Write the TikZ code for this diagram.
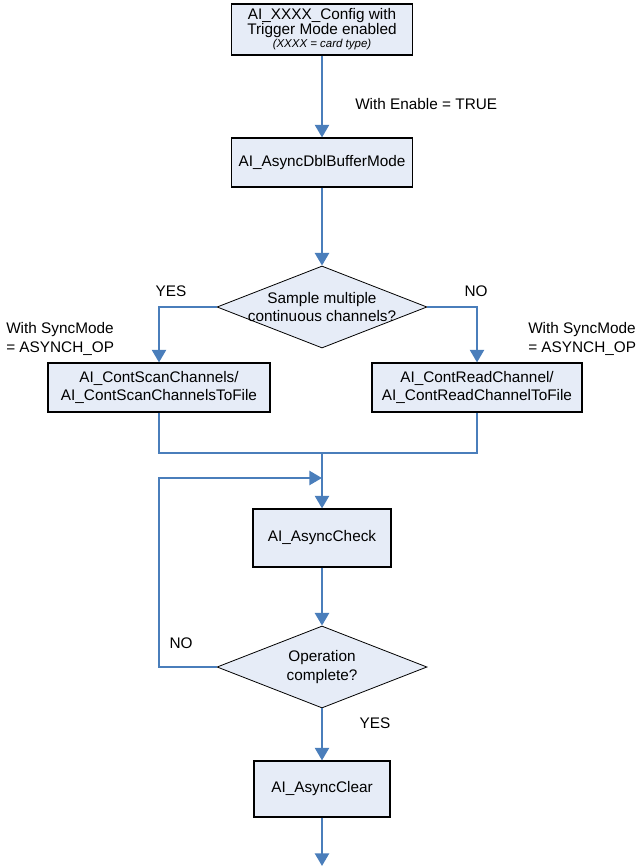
\documentclass[tikz,border=0pt]{standalone}
\usepackage{fontspec}
\setmainfont{Liberation Sans}
\usepackage{tikz}
\usetikzlibrary{shapes.geometric, arrows.meta, positioning}
\definecolor{flowblue}{HTML}{4A7EBB}
\definecolor{boxfill}{HTML}{E6ECF7}

\begin{document}
\begin{tikzpicture}[
  x=0.75pt, y=-0.75pt,
  every node/.style={font=\fontsize{11.5}{13.8}\selectfont},
  block/.style={
    rectangle, draw=black, line width=0.8pt, fill=boxfill,
    align=center, inner sep=0pt
  },
  decision/.style={
    diamond, draw=black, line width=0.6pt, fill=boxfill, aspect=2.56,
    minimum width=157.5pt, minimum height=61.5pt, inner sep=0pt
  },
  note/.style={align=left, inner sep=0pt},
  arrow/.style={-{Triangle[length=9.5pt,width=10.5pt]}, line width=1.9pt, draw=flowblue},
  link/.style={line width=1.9pt, draw=flowblue},
]
  \useasboundingbox (0,0) rectangle (638,867);

  \node[block, minimum width=135.75pt, minimum height=38.25pt,
        font=\fontsize{11.5}{11.3}\selectfont] (config) at (322,29.5)
    {AI\_XXXX\_Config with\\Trigger Mode enabled\\[-1.5pt]
     {\fontsize{8.6}{9}\selectfont\itshape (XXXX = card type)}};
  \node[block, minimum width=135.75pt, minimum height=36.75pt] (dblbuf) at (322,162.5)
    {AI\_AsyncDblBufferMode};
  \node[decision, label={[align=center]center:{Sample multiple\\continuous channels?}}]
    (dsample) at (322,307) {};
  \node[block, minimum width=166.5pt, minimum height=36.75pt] (scan) at (159,387.5)
    {AI\_ContScanChannels/\\AI\_ContScanChannelsToFile};
  \node[block, minimum width=157.5pt, minimum height=36.75pt] (read) at (477,387.5)
    {AI\_ContReadChannel/\\AI\_ContReadChannelToFile};
  \node[block, minimum width=103.5pt, minimum height=43.5pt] (check) at (322,538)
    {AI\_AsyncCheck};
  \node[decision, label={[align=center]center:{Operation\\complete?}}]
    (dcomplete) at (322,667) {};
  \node[block, minimum width=102pt, minimum height=42pt] (clear) at (322,789)
    {AI\_AsyncClear};

  % labels
  \node[anchor=west, inner sep=0pt] (lblenable) at (355,104) {With Enable = TRUE};
  \node (lblyes) at (171,291) {YES};
  \node (lblno) at (476,291) {NO};
  \node[note, anchor=west] (lblsyncl) at (6,339) {With SyncMode\\= ASYNCH\_OP};
  \node[note, anchor=west] (lblsyncr) at (528,339) {With SyncMode\\= ASYNCH\_OP};
  \node (lblloopno) at (181,643) {NO};
  \node (lbldoneyes) at (375,723) {YES};

  \coordinate (join) at (322,453);
  \coordinate (loopcorner) at (159,478);
  \coordinate (loopend) at (322,478);
  \coordinate (exit) at (322,866);

  \draw[arrow] (config) -- (dblbuf);
  \draw[arrow] (dblbuf) -- (dsample);
  \draw[arrow] (dsample.west) -| (scan);
  \draw[arrow] (dsample.east) -| (read);
  \draw[link] (scan.south) |- (join) -| (read.south);
  \draw[arrow] (join) -- (check);
  \draw[arrow] (check) -- (dcomplete);
  \draw[arrow] (dcomplete.west) -| (loopcorner) -- (loopend);
  \draw[arrow] (dcomplete) -- (clear);
  \draw[arrow] (clear) -- (exit);
\end{tikzpicture}
\end{document}
